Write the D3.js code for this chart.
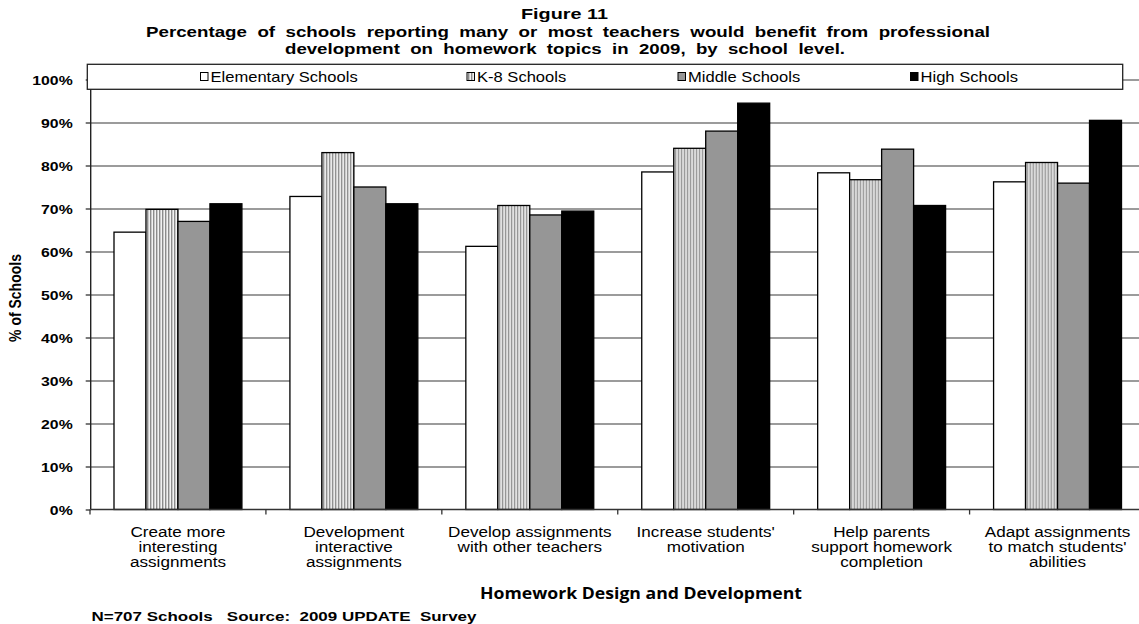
<!DOCTYPE html>
<html>
<head>
<meta charset="utf-8">
<script src="https://cdn.jsdelivr.net/npm/d3@7"></script>
<style>
  html, body { margin: 0; padding: 0; background: #fff; }
  svg { display: block; }
  text { white-space: pre; }
</style>
</head>
<body>
<script>
// Homework professional-development topics, share of schools by level
const categories = [
  "Create more interesting assignments",
  "Development interactive assignments",
  "Develop assignments with other teachers",
  "Increase students' motivation",
  "Help parents support homework completion",
  "Adapt assignments to match students' abilities"
];
const categoryLines = [
  ["Create more", "interesting", "assignments"],
  ["Development", "interactive", "assignments"],
  ["Develop assignments", "with other teachers"],
  ["Increase students'", "motivation"],
  ["Help parents", "support homework", "completion"],
  ["Adapt assignments", "to match students'", "abilities"]
];
const seriesNames = ["Elementary Schools", "K-8 Schools", "Middle Schools", "High Schools"];
const elementary = [64.5, 72.8, 61.2, 78.5, 78.3, 76.2];
const k8 = [69.8, 83.0, 70.7, 84.0, 76.7, 80.7];
const middle = [67.0, 75.0, 68.5, 88.0, 83.8, 75.9];
const high = [71.1, 71.1, 69.4, 94.5, 70.7, 90.5];
const yTicks = [0, 10, 20, 30, 40, 50, 60, 70, 80, 90, 100];

const titleTop = "Figure 11";
const titleLines = [
  "Percentage  of  schools  reporting  many  or  most  teachers  would  benefit  from  professional",
  "development  on  homework  topics  in  2009,  by  school  level."
];
const yTitle = "% of Schools";
const xTitle = "Homework Design and Development";
const footer = "N=707 Schools   Source:  2009 UPDATE  Survey";

const seriesValues = [elementary, k8, middle, high];

const W = 1139, H = 624;
const svg = d3.select("body").append("svg").attr("width", W).attr("height", H);

const defs = svg.append("defs");
const pat = defs.append("pattern").attr("id", "stripes")
  .attr("patternUnits", "userSpaceOnUse").attr("width", 3).attr("height", 6);
pat.append("rect").attr("width", 3).attr("height", 6).attr("fill", "#f2f2f2");
pat.append("rect").attr("width", 1.4).attr("height", 6).attr("fill", "#8c8c8c");

const fills = ["#ffffff", "url(#stripes)", "#969696", "#000000"];
const SANS = "'Liberation Sans', Arial, sans-serif";

// Plot geometry
const plot = { left: 90.7, right: 1146, top: 79.5, bottom: 509.5 };

const y = d3.scaleLinear().domain([0, 100]).range([plot.bottom, plot.top]);
const x0 = d3.scaleBand().domain(categories).range([90, 1145.5]).padding(0);
const x1 = d3.scaleBand().domain(seriesNames).range([24, x0.bandwidth() - 24]).padding(0);

function label(g, x, yPos, s, o) {
  return g.append("text")
    .attr("transform", `translate(${x},${yPos}) scale(${o.sx || 1},1)`)
    .attr("text-anchor", o.anchor || "start")
    .style("font-family", o.family || SANS)
    .style("font-size", (o.size || 13) + "px")
    .style("font-weight", o.weight || "normal")
    .attr("fill", o.fill || "#000")
    .text(s);
}
function fitted(g, x, yPos, s, w, o) {
  return g.append("text")
    .attr("x", x).attr("y", yPos)
    .attr("textLength", w).attr("lengthAdjust", "spacingAndGlyphs")
    .style("font-family", o.family || SANS)
    .style("font-size", (o.size || 13) + "px")
    .style("font-weight", o.weight || "normal")
    .attr("fill", "#000")
    .text(s);
}

// Gridlines
const grid = svg.append("g").attr("transform", `translate(${plot.left},0)`)
  .call(d3.axisLeft(y).tickValues(yTicks.filter(d => d > 0)).tickSize(-(W - plot.left)).tickFormat(""));
grid.select(".domain").remove();
grid.selectAll(".tick line").attr("stroke", "#7a7a7a").attr("stroke-width", 1.3);

// Bars
const groups = svg.append("g").selectAll("g").data(categories).join("g")
  .attr("transform", d => `translate(${x0(d)},0)`);
groups.selectAll("rect")
  .data((c, i) => seriesNames.map((s, k) => ({ s, k, v: seriesValues[k][i] })))
  .join("rect")
  .attr("x", d => x1(d.s))
  .attr("y", d => y(d.v))
  .attr("width", x1.bandwidth())
  .attr("height", d => y(0) - y(d.v))
  .attr("fill", d => fills[d.k])
  .attr("stroke", "#000")
  .attr("stroke-width", 1.3);

// Y axis with outside ticks
const yAxis = svg.append("g").attr("transform", `translate(${plot.left},0)`)
  .call(d3.axisLeft(y).tickValues(yTicks).tickSize(5).tickFormat(""));
yAxis.select(".domain").attr("stroke", "#222").attr("stroke-width", 1.4)
  .attr("d", `M0,${plot.top}V${plot.bottom}`);
yAxis.selectAll(".tick line").attr("stroke", "#222").attr("stroke-width", 1.2);

// Y tick labels
const yLab = svg.append("g");
yTicks.forEach(t => {
  label(yLab, 72.7, y(t) + 5, t + "%", { anchor: "end", weight: "bold", size: 13.5, sx: 1.17 });
});

// X axis line and boundary ticks
const xAxis = svg.append("g").attr("transform", `translate(0,${plot.bottom})`)
  .call(d3.axisBottom(x0).tickSize(0).tickFormat(""));
xAxis.select(".domain").attr("stroke", "#333").attr("stroke-width", 1.3)
  .attr("d", `M${plot.left},0H${W}`);
xAxis.selectAll(".tick").remove();
const bounds = categories.map(c => x0(c));
xAxis.selectAll("line.bt").data(bounds).join("line").attr("class", "bt")
  .attr("x1", d => d).attr("x2", d => d).attr("y1", 0).attr("y2", 5)
  .attr("stroke", "#333").attr("stroke-width", 1.3);

// Category labels
const catG = svg.append("g");
categories.forEach((c, i) => {
  const cx = x0(c) + x0.bandwidth() / 2;
  categoryLines[i].forEach((ln, j) => {
    label(catG, cx, 537 + j * 15, ln, { anchor: "middle", size: 14.5, sx: 1.18 });
  });
});

// Legend
const leg = svg.append("g");
leg.append("rect").attr("x", 87.3).attr("y", 64.3).attr("width", 1122.7 - 87.3).attr("height", 25)
  .attr("fill", "#fff").attr("stroke", "#222").attr("stroke-width", 1.3);
const legX = [200.5, 467, 678, 910.5];
seriesNames.forEach((s, k) => {
  leg.append("rect").attr("x", legX[k]).attr("y", 72.5).attr("width", 7.5).attr("height", 8)
    .attr("fill", fills[k])
    .attr("stroke", "#000").attr("stroke-width", 1);
  label(leg, legX[k] + 10, 82, s, { size: 13.8, sx: 1.2 });
});

// Titles
const tg = svg.append("g");
fitted(tg, 521, 18.5, titleTop, 87, { size: 15.5, weight: "bold" });
fitted(tg, 146, 36.5, titleLines[0], 844, { size: 15.5, weight: "bold" });
fitted(tg, 285, 53.5, titleLines[1], 560, { size: 15.5, weight: "bold" });

// Axis titles
tg.append("text")
  .attr("transform", "translate(21,298) scale(1.2,1) rotate(-90)")
  .attr("text-anchor", "middle")
  .style("font-family", SANS).style("font-size", "14px").style("font-weight", "bold")
  .text(yTitle);
fitted(tg, 480, 598.5, xTitle, 322, { size: 16, weight: "bold", family: "'Open Sans', 'DejaVu Sans', sans-serif" });

// Footer
fitted(tg, 91.5, 620.5, footer, 385, { size: 13.5, weight: "bold" });
</script>
</body>
</html>
